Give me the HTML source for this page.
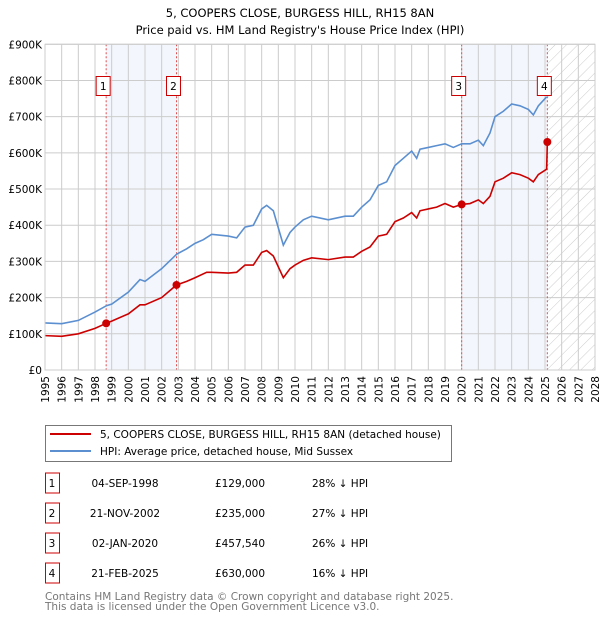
<!DOCTYPE html>
<html><head><meta charset="utf-8"><style>
body{margin:0;background:#fff;width:600px;height:620px;overflow:hidden}
svg{font-family:"DejaVu Sans","Liberation Sans",sans-serif}
</style></head><body>
<svg id="chart" width="600" height="620" xmlns="http://www.w3.org/2000/svg">
<defs>
<pattern id="hatch" patternUnits="userSpaceOnUse" width="8" height="8" patternTransform="rotate(45)">
<line x1="0" y1="0" x2="0" y2="8" stroke="#ccc" stroke-width="1"/></pattern>
</defs>
<text x="300" y="17" text-anchor="middle" font-size="11.5">5, COOPERS CLOSE, BURGESS HILL, RH15 8AN</text>
<text x="300" y="34" text-anchor="middle" font-size="11.5">Price paid vs. HM Land Registry's House Price Index (HPI)</text>
<g id="plot"></g>
<g>
<rect x="45.5" y="425.5" width="406" height="36" fill="#fff" stroke="#777"/>
<line x1="50" y1="434" x2="91" y2="434" stroke="#cc0000" stroke-width="2"/>
<text x="100" y="438" font-size="10.5">5, COOPERS CLOSE, BURGESS HILL, RH15 8AN (detached house)</text>
<line x1="50" y1="451" x2="91" y2="451" stroke="#5b8fd0" stroke-width="2"/>
<text x="100" y="455" font-size="10.5">HPI: Average price, detached house, Mid Sussex</text>
</g>
<g id="table" font-size="10.5"></g>
<text x="45" y="600" font-size="10.5" fill="#777">Contains HM Land Registry data © Crown copyright and database right 2025.</text>
<text x="45" y="610" font-size="10.5" fill="#777">This data is licensed under the Open Government Licence v3.0.</text>
</svg>
<script>
const hpiYears=[1995,1996,1997,1998,1998.7,1999,2000,2000.7,2001,2002,2002.9,2003.5,2004,2004.5,2005,2006,2006.5,2007,2007.5,2008,2008.3,2008.7,2009.3,2009.7,2010,2010.5,2011,2012,2013,2013.5,2014,2014.5,2015,2015.5,2016,2016.5,2017,2017.3,2017.5,2018,2018.5,2019,2019.5,2020,2020.5,2021,2021.3,2021.7,2022,2022.5,2023,2023.5,2024,2024.3,2024.6,2025.1];
const hpiValues=[130,128,137,160,178,182,215,250,245,280,320,335,350,360,375,370,365,395,400,445,455,440,345,380,395,415,425,415,425,425,450,470,510,520,565,585,605,585,610,615,620,625,615,625,625,635,620,655,700,715,735,730,720,705,730,755];
const ppYears=[1995,1996,1997,1998,1998.67,1999,2000,2000.7,2001,2002,2002.89,2003.5,2004,2004.7,2005,2006,2006.5,2007,2007.5,2008,2008.3,2008.7,2009.3,2009.7,2010,2010.5,2011,2012,2013,2013.5,2014,2014.5,2015,2015.5,2016,2016.5,2017,2017.3,2017.5,2018,2018.5,2019,2019.5,2020.0,2020.5,2021,2021.3,2021.7,2022,2022.5,2023,2023.5,2024,2024.3,2024.6,2025.1,2025.14];
const ppValues=[95,93,100,115,129,135,155,180,180,200,235,245,255,270,270,268,270,290,290,325,330,315,255,280,290,303,310,305,312,312,328,340,370,375,410,420,435,420,440,445,450,460,450,457.54,460,470,460,480,520,530,545,540,530,520,540,555,630];
const saleLabels=["1","2","3","4"];
const saleYears=[1998.67,2002.89,2020.0,2025.14];
const saleValues=[129,235,457.54,630];
const saleDates=["04-SEP-1998","21-NOV-2002","02-JAN-2020","21-FEB-2025"];
const salePrices=["£129,000","£235,000","£457,540","£630,000"];
const saleDiffs=["28% ↓ HPI","27% ↓ HPI","26% ↓ HPI","16% ↓ HPI"];
const yTicks=[0,100,200,300,400,500,600,700,800,900];
const yTickLabels=["£0","£100K","£200K","£300K","£400K","£500K","£600K","£700K","£800K","£900K"];
const xTicks=[];for(let y=1995;y<=2028;y++)xTicks.push(y);

const X0=45,X1=595,Y0=370,Y1=44.3,XMIN=1995,XMAX=2028,YMAX=900;
const xs=v=>X0+(v-XMIN)/(XMAX-XMIN)*(X1-X0);
const ys=v=>Y0-v/YMAX*(Y0-Y1);
const NS="http://www.w3.org/2000/svg";
const plot=document.getElementById('plot');
function mk(tag,attrs,parent){const e=document.createElementNS(NS,tag);for(const k in attrs)e.setAttribute(k,attrs[k]);(parent||plot).appendChild(e);return e;}

let b=mk('rect',{x:xs(saleYears[0]),y:Y1,width:xs(saleYears[1])-xs(saleYears[0]),height:Y0-Y1,fill:'#eef3fc',opacity:0.7});


b=mk('rect',{x:xs(saleYears[2]),y:Y1,width:xs(saleYears[3])-xs(saleYears[2]),height:Y0-Y1,fill:'#eef3fc',opacity:0.7});


let h=mk('rect',{x:xs(saleYears[3]),y:Y1,width:X1-xs(saleYears[3]),height:Y0-Y1,fill:'url(#hatch)'});



xTicks.forEach(t=>{
 const g=mk('line',{x1:xs(t),x2:xs(t),y1:Y1,y2:Y0,stroke:'#ccc','stroke-width':1});
 
 
 const tx=mk('text',{x:0,y:0,'font-size':10.5,'text-anchor':'end',transform:`translate(${xs(t)+4},${Y0+6}) rotate(-90)`});
 tx.textContent=t;
 
 
});
yTicks.forEach((t,i)=>{
 const g=mk('line',{x1:X0,x2:X1,y1:ys(t),y2:ys(t),stroke:'#ccc','stroke-width':1});
 
 
 const tx=mk('text',{x:X0-3,y:ys(t)+4,'font-size':10.5,'text-anchor':'end'});
 tx.textContent=yTickLabels[i];
 
 
});

saleYears.forEach((yr,i)=>{
 const l=mk('line',{x1:xs(yr),x2:xs(yr),y1:Y1,y2:Y0,stroke:'#e05050','stroke-width':1,'stroke-dasharray':'2,2'});
 
 
 const r=mk('rect',{x:xs(yr)-10,y:76.5,width:14,height:19,fill:'#fff',stroke:'#cc0000'});
 
 
 const t=mk('text',{x:xs(yr)-3,y:90,'font-size':10.5,'text-anchor':'middle'});
 t.textContent=saleLabels[i];
 
 
});

const hp=mk('polyline',{points:hpiYears.map((y,i)=>xs(y)+','+ys(hpiValues[i])).join(' '),fill:'none',stroke:'#5b8fd0','stroke-width':1.6});


const pp=mk('polyline',{points:ppYears.map((y,i)=>xs(y)+','+ys(ppValues[i])).join(' '),fill:'none',stroke:'#cc0000','stroke-width':1.6});


saleYears.forEach((yr,i)=>{
 const c=mk('circle',{cx:xs(yr),cy:ys(saleValues[i]),r:4,fill:'#cc0000'});
 
 
});
const fr=mk('rect',{x:X0,y:Y1,width:X1-X0,height:Y0-Y1,fill:'none',stroke:'#ccc'});



const tb=document.getElementById('table');
saleLabels.forEach((lab,i)=>{
 const cy=483+i*30;
 const r=mk('rect',{x:45.5,y:cy-10,width:14,height:20,fill:'#fff',stroke:'#cc0000'},tb);
 
 
 const cells=[[52,lab,'middle'],[125,saleDates[i],'middle'],[240,salePrices[i],'middle'],[312,saleDiffs[i],'start']];
 cells.forEach(([x,s,a],j)=>{
  const t=mk('text',{x:x,y:cy+4,'text-anchor':a},tb);
  t.textContent=s;
  
  
 });
});
</script>
</body></html>
